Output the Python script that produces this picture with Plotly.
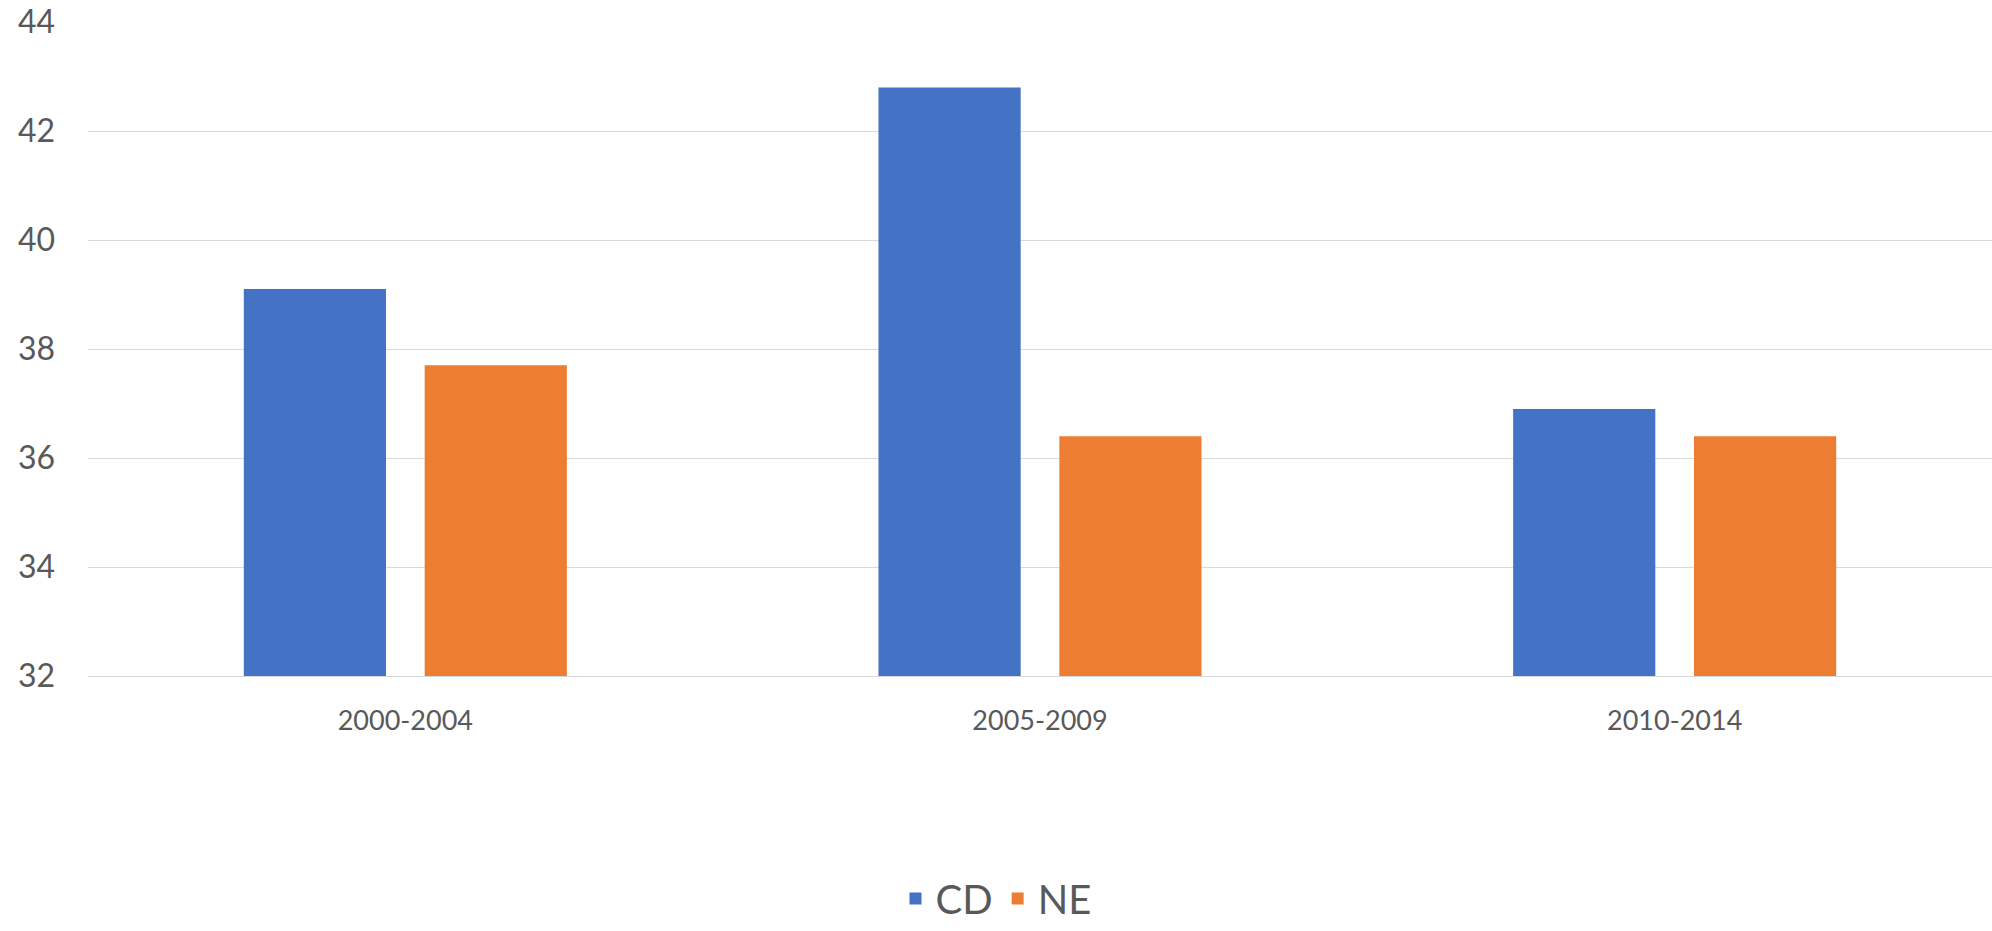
import plotly.graph_objects as go

categories = ["2000-2004", "2005-2009", "2010-2014"]
cd_values = [39.1, 42.8, 36.9]
ne_values = [37.7, 36.4, 36.4]
y_ticks = [32, 34, 36, 38, 40, 42, 44]

FONT = "Lato"
TXT = "#595959"

fig = go.Figure()
fig.add_trace(go.Bar(name="CD", x=categories, y=cd_values, marker_color="#4472C4", marker_line_width=0))
fig.add_trace(go.Bar(name="NE", x=categories, y=ne_values, marker_color="#ED7D31", marker_line_width=0))

fig.update_layout(
    width=1992, height=931,
    margin=dict(l=88, r=0, t=22, b=255, autoexpand=False),
    paper_bgcolor="white", plot_bgcolor="white",
    barmode="group", bargap=0.43, bargroupgap=0.214,
    font=dict(family=FONT, color=TXT),
    legend=dict(orientation="h", xref="container", yref="container",
                x=0.5, xanchor="center", y=0.0, yanchor="bottom",
                font=dict(size=40, color=TXT, family=FONT), itemwidth=30),
    showlegend=True,
)
fig.update_xaxes(showgrid=False, showline=True, linecolor="#d9d9d9", linewidth=1.3,
                 tickfont=dict(size=27, color=TXT, family=FONT), ticks="", ticklabelstandoff=20)
fig.update_yaxes(range=[32, 44], tickvals=y_ticks, showgrid=True, gridcolor="#d9d9d9", gridwidth=1.3,
                 zeroline=False, showline=False, tickfont=dict(size=32, color=TXT, family=FONT),
                 ticks="", ticklabelstandoff=32)

fig.write_html("out.html")
